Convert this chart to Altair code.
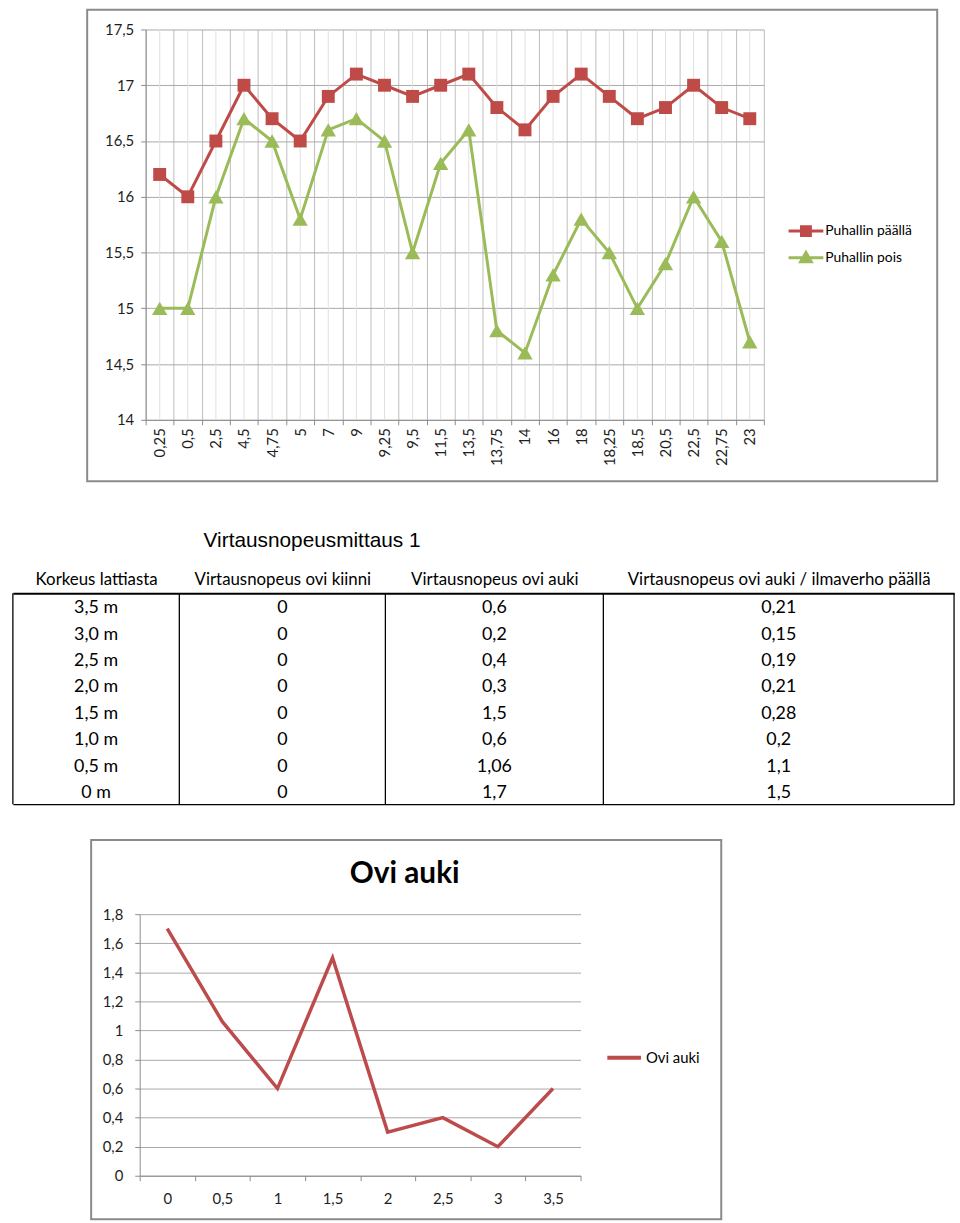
import json
import altair as alt
import pandas as pd

# ---------------- data ----------------
distances = ["0,25", "0,5", "2,5", "4,5", "4,75", "5", "7", "9", "9,25", "9,5",
             "11,5", "13,5", "13,75", "14", "16", "18", "18,25", "18,5", "20,5",
             "22,5", "22,75", "23"]
puhallin_paalla = [16.2, 16.0, 16.5, 17.0, 16.7, 16.5, 16.9, 17.1, 17.0, 16.9, 17.0,
                   17.1, 16.8, 16.6, 16.9, 17.1, 16.9, 16.7, 16.8, 17.0, 16.8, 16.7]
puhallin_pois = [15.0, 15.0, 16.0, 16.7, 16.5, 15.8, 16.6, 16.7, 16.5, 15.5, 16.3,
                 16.6, 14.8, 14.6, 15.3, 15.8, 15.5, 15.0, 15.4, 16.0, 15.6, 14.7]
series_names = ["Puhallin päällä", "Puhallin pois"]
top_y_ticks = [14, 14.5, 15, 15.5, 16, 16.5, 17, 17.5]

table_title = "Virtausnopeusmittaus 1"
table_headers = ["Korkeus lattiasta", "Virtausnopeus ovi kiinni",
                 "Virtausnopeus ovi auki", "Virtausnopeus ovi auki / ilmaverho päällä"]
korkeus = ["3,5 m", "3,0 m", "2,5 m", "2,0 m", "1,5 m", "1,0 m", "0,5 m", "0 m"]
ovi_kiinni = ["0", "0", "0", "0", "0", "0", "0", "0"]
ovi_auki = ["0,6", "0,2", "0,4", "0,3", "1,5", "0,6", "1,06", "1,7"]
ilmaverho = ["0,21", "0,15", "0,19", "0,21", "0,28", "0,2", "1,1", "1,5"]

bottom_title = "Ovi auki"
bottom_series = "Ovi auki"
bottom_x = ["0", "0,5", "1", "1,5", "2", "2,5", "3", "3,5"]
bottom_values = [1.7, 1.06, 0.6, 1.5, 0.3, 0.4, 0.2, 0.6]
bottom_y_ticks = [0, 0.2, 0.4, 0.6, 0.8, 1.0, 1.2, 1.4, 1.6, 1.8]

# ---------------- styles / layout (page pixels) ----------------
PAGE_W = 960
RED = "#BE4B48"
GREEN = "#9BBB59"
RED2 = "#BE4B4B"
FRAME = "#8a8a8a"
AXIS_GRAY = "#8c8c8c"
FONT = "Lato"
COMMA = "replace(format(datum.value, '~g'), '.', ',')"

one = pd.DataFrame({"k": [0]})


def panel(x0, x1, y0, y1, **style):
    return alt.Chart(one).mark_rect(**style).encode(
        x=alt.value(x0), x2=alt.value(x1), y=alt.value(y0), y2=alt.value(y1))


def spacer(y0, y1):
    # invisible box that reserves the panel's share of the page
    return panel(0, PAGE_W, y0, y1, fill="transparent", fillOpacity=0, strokeWidth=0)


# ---------------- top chart ----------------
TOP_X = [139, 763]      # plot area, left/right
TY, TH = 23, 394
top_df = pd.DataFrame({
    "etaisyys": distances * 2,
    "sarja": [series_names[0]] * len(distances) + [series_names[1]] * len(distances),
    "arvo": puhallin_paalla + puhallin_pois,
})

top_x_scale = alt.Scale(type="band", domain=distances, paddingInner=0, paddingOuter=0,
                        range=TOP_X)
top_y_scale = alt.Scale(domain=[14, 17.5], nice=False, zero=False)
top_x_axis = alt.Axis(tickBand="extent", grid=True, gridColor="#bdbdbd", gridWidth=1,
                      ticks=True, tickSize=5, tickColor=AXIS_GRAY, domainColor=AXIS_GRAY,
                      labelAngle=270, labelAlign="right", labelBaseline="middle",
                      labelPadding=3, labelFont=FONT, labelFontSize=15, labelColor="#1e1e1e",
                      labelOverlap=False, title=None)
top_y_axis = alt.Axis(values=top_y_ticks, grid=True, gridColor="#a9a9a9", ticks=True,
                      tickSize=5, tickColor=AXIS_GRAY, domainColor=AXIS_GRAY,
                      labelExpr=COMMA, labelPadding=7, labelFont=FONT, labelFontSize=15,
                      labelColor="#1e1e1e", title=None, offset=-TOP_X[0])
top_x = alt.X("etaisyys:N", scale=top_x_scale, axis=top_x_axis)
top_y = alt.Y("arvo:Q", scale=top_y_scale, axis=top_y_axis)

sq_path = "M-1.17,0H1.17M-0.3,-0.3H0.3V0.3H-0.3Z"
tri_path = "M-1.17,0H1.17M0,-0.36L0.36,0.27H-0.36Z"
top_legend = alt.Legend(
    title=None, orient="none", legendX=789, legendY=187, symbolSize=900,
    rowPadding=0, padding=0, labelOffset=3, labelFont=FONT, labelFontSize=14,
    labelColor="black",
    symbolType=alt.ExprRef(expr=f"datum.index === 0 ? '{sq_path}' : '{tri_path}'"),
    symbolFillColor=alt.ExprRef(expr=f"datum.index === 0 ? '{RED}' : '{GREEN}'"),
    symbolStrokeColor=alt.ExprRef(expr=f"datum.index === 0 ? '{RED}' : '{GREEN}'"),
    symbolStrokeWidth=3, symbolOpacity=1)
top_color = alt.Color("sarja:N", scale=alt.Scale(domain=series_names, range=[RED, GREEN]),
                      legend=top_legend)

top_space = spacer(-TY, 500 - TY)
top_frame = panel(80, 938, 3 - TY, 479 - TY, filled=False, color=FRAME, strokeWidth=2)
top_rules = alt.Chart(pd.DataFrame({"etaisyys": distances})).mark_rule(
    color="#e0e0e0", strokeWidth=1).encode(x=top_x)
top_base = alt.Chart(top_df)
top_lines = top_base.mark_line(strokeWidth=3).encode(x=top_x, y=top_y, color=top_color)
top_sq = top_base.transform_filter(alt.datum.sarja == series_names[0]).mark_point(
    shape="square", filled=True, size=170, opacity=1).encode(
    x=top_x, y=top_y, color=top_color)
top_tri = top_base.transform_filter(alt.datum.sarja == series_names[1]).mark_point(
    shape="triangle-up", filled=True, size=240, opacity=1).encode(
    x=top_x, y=top_y, color=top_color)
top = alt.layer(top_space, top_frame, top_rules, top_lines, top_sq, top_tri).properties(
    width=TOP_X[1], height=TH)

# ---------------- table ----------------
TAY, TAH = 590, 213
columns = [korkeus, ovi_kiinni, ovi_auki, ilmaverho]
table_rows = []
for r in range(len(korkeus)):
    for c, col in enumerate(columns):
        table_rows.append({"rivi": r, "sarake": c + 0.5, "teksti": col[r]})
table_df = pd.DataFrame(table_rows)
# kept slightly inside the page so the border strokes do not overflow it
col_edges_px = [5, 173, 381, 601, 955]
table_x_scale = alt.Scale(domain=list(range(len(columns) + 1)), range=col_edges_px,
                          nice=False, zero=False)
header_expr = f"{json.dumps(table_headers, ensure_ascii=False)}[floor(datum.value)]"
table_top_axis = alt.Axis(
    orient="top", values=[c + 0.5 for c in range(len(columns))], labelExpr=header_expr,
    grid=False, ticks=False, domain=True, domainColor="black", domainWidth=2,
    labelFont=FONT, labelFontSize=17, labelColor="black", labelPadding=5, labelAngle=0,
    labelAlign="center", labelOverlap=False, labelFlush=False, labelLimit=500,
    title=table_title, titleX=197, titleY=-53, titleAlign="left",
    titleBaseline="middle", titleFont="Liberation Sans", titleFontSize=21,
    titleFontWeight="normal", titleColor="black", titleAngle=0)
table_bottom_axis = alt.Axis(orient="bottom", labels=False, ticks=False, grid=False,
                             domain=True, domainColor="black", domainWidth=1.3, title=None)
table_space = spacer(500 - TAY, 825 - TAY)
table_rules = alt.Chart(pd.DataFrame({"sarake": list(range(len(columns) + 1))})).mark_rule(
    color="black", strokeWidth=1.3).encode(
    x=alt.X("sarake:Q", scale=table_x_scale, axis=table_bottom_axis))
table_text = alt.Chart(table_df).mark_text(
    font=FONT, fontSize=18, color="black", baseline="middle", dy=2).encode(
    x=alt.X("sarake:Q", scale=table_x_scale, axis=table_top_axis),
    y=alt.Y("rivi:O", scale=alt.Scale(paddingInner=0, paddingOuter=0), axis=None),
    text="teksti:N")
table = alt.layer(table_space, table_rules, table_text).resolve_axis(
    x="independent").properties(width=col_edges_px[-1], height=TAH)

# ---------------- bottom chart ----------------
BOT_X = [133, 578]
BY, BH = 912, 264
bottom_df = pd.DataFrame({"korkeus": bottom_x, "arvo": bottom_values,
                          "sarja": [bottom_series] * len(bottom_x)})
bottom_x_axis = alt.Axis(
    tickBand="extent", grid=False, ticks=True, tickSize=5, tickColor=AXIS_GRAY,
    domainColor=AXIS_GRAY, labelAngle=0, labelPadding=11, labelFont=FONT, labelFontSize=15,
    labelColor="#1e1e1e", title=bottom_title, titleX=400, titleY=871 - (BY + BH),
    titleFont=FONT, titleFontSize=30, titleFontWeight="bold", titleAlign="center",
    titleBaseline="middle", titleColor="black", titleAngle=0)
bottom_y_axis = alt.Axis(values=bottom_y_ticks, grid=True, gridColor="#a9a9a9", ticks=True,
                         tickSize=5, tickColor=AXIS_GRAY, domainColor=AXIS_GRAY,
                         labelExpr=COMMA, labelPadding=12, labelFont=FONT, labelFontSize=15,
                         labelColor="#1e1e1e", title=None, offset=-BOT_X[0])
bottom_legend = alt.Legend(title=None, orient="none", legendX=610, legendY=133,
                           symbolType="M-1.7,0H1.7", symbolSize=400, symbolStrokeWidth=4,
                           labelOffset=10, padding=0, labelFont=FONT, labelFontSize=15,
                           labelColor="black")
bottom_space = spacer(825 - BY, 1223 - BY)
bottom_frame = panel(84, 720, 837 - BY, 1220 - BY, filled=False, color=FRAME, strokeWidth=2)
bottom_line = alt.Chart(bottom_df).mark_line(strokeWidth=3.5).encode(
    x=alt.X("korkeus:N", scale=alt.Scale(type="band", domain=bottom_x, paddingInner=0,
                                         paddingOuter=0, range=BOT_X),
            axis=bottom_x_axis),
    y=alt.Y("arvo:Q", scale=alt.Scale(domain=[0, 1.8], nice=False), axis=bottom_y_axis),
    color=alt.Color("sarja:N", scale=alt.Scale(domain=[bottom_series], range=[RED2]),
                    legend=bottom_legend))
bottom = alt.layer(bottom_space, bottom_frame, bottom_line).properties(
    width=BOT_X[1], height=BH)

chart = alt.vconcat(top, table, bottom, spacing=0, padding=0,
                    background="white").resolve_scale(
    color="independent").resolve_legend(color="independent").configure_view(
    stroke="transparent")

chart.save("out.html", embed_options={"renderer": "svg", "actions": False})
